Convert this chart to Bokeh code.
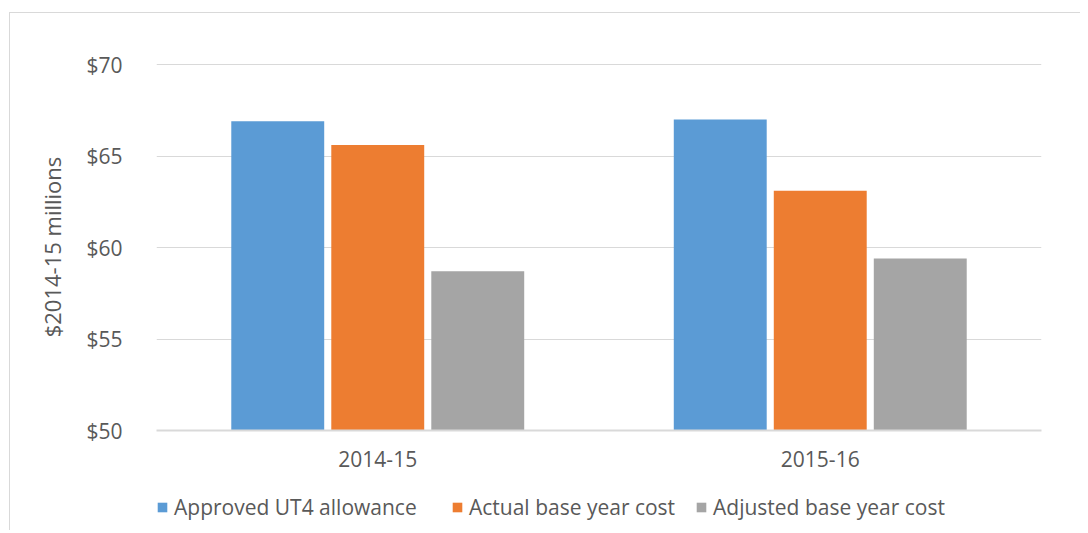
from bokeh.plotting import figure
from bokeh.layouts import column
from bokeh.models import ColumnDataSource, FactorRange, Legend, LegendItem, NumeralTickFormatter, FixedTicker, Range1d
from bokeh.transform import dodge
from bokeh.embed import file_html
from bokeh.resources import INLINE

years = ["2014-15", "2015-16"]
series = ["Approved UT4 allowance", "Actual base year cost", "Adjusted base year cost"]
approved = [66.9, 67.0]
actual = [65.6, 63.1]
adjusted = [58.7, 59.4]
colors = ["#5B9BD5", "#ED7D31", "#A5A5A5"]
y_ticks = [50, 55, 60, 65, 70]

src = ColumnDataSource(data=dict(year=years, approved=approved, actual=actual, adjusted=adjusted))

FONT = "Open Sans"
TXT = "#595959"
GRID = "#D9D9D9"

p = figure(x_range=FactorRange(*years), y_range=Range1d(50, 70.06),
           frame_width=885, frame_height=367,
           output_backend="svg", toolbar_location=None,
           min_border_left=146, min_border_right=39, min_border_top=50, min_border_bottom=50)
p.outline_line_color = None
p.x_range.range_padding = 0.0

renderers = []
for field, off, col in zip(["approved", "actual", "adjusted"], [-0.226, 0.0, 0.226], colors):
    r = p.vbar(x=dodge("year", off, range=p.x_range), top=field, bottom=50, width=0.21,
               source=src, color=col, line_color=None)
    renderers.append(r)

p.yaxis.ticker = FixedTicker(ticks=y_ticks)
p.yaxis.formatter = NumeralTickFormatter(format="$0")
p.yaxis.axis_line_color = None
p.yaxis.major_tick_line_color = None
p.yaxis.minor_tick_line_color = None
p.yaxis.major_label_standoff = 28
p.yaxis.axis_label = "$2014-15 millions"
p.yaxis.axis_label_standoff = 16
p.yaxis.axis_label_text_font = FONT
p.yaxis.axis_label_text_font_size = "22px"
p.yaxis.axis_label_text_font_style = "normal"
p.yaxis.axis_label_text_color = TXT

p.xaxis.axis_line_color = GRID
p.xaxis.axis_line_width = 2
p.xaxis.major_tick_line_color = None
p.xaxis.minor_tick_line_color = None
p.xaxis.major_label_standoff = 14

for ax in [p.xaxis, p.yaxis]:
    ax.major_label_text_font = FONT
    ax.major_label_text_font_size = "21px"
    ax.major_label_text_color = TXT

p.xgrid.grid_line_color = None
p.ygrid.grid_line_color = GRID
p.ygrid.grid_line_width = 1

# legend strip below the chart
lg = figure(width=1070, height=50, x_range=(0, 1), y_range=(0, 1),
            output_backend="svg", toolbar_location=None,
            min_border_left=0, min_border_right=0, min_border_top=0, min_border_bottom=0)
lg.axis.visible = False
lg.grid.visible = False
lg.outline_line_color = None

legend_x = [0, 295, 539]
for s, col, lx in zip(series, colors, legend_x):
    d = lg.vbar(x=[0.5], top=[0.0], bottom=[0.0], width=0.0, color=col, line_color=None)
    leg = Legend(items=[LegendItem(label=s, renderers=[d])],
                 orientation="horizontal", location=(lx, 9),
                 glyph_width=12, glyph_height=12, label_standoff=6, spacing=0,
                 label_text_font=FONT, label_text_font_size="21px", label_text_color=TXT,
                 border_line_color=None, background_fill_alpha=0, padding=0, margin=0)
    lg.add_layout(leg, "center")

layout = column(p, lg, spacing=0)
layout.margin = (12, 0, 0, 9)
layout.styles = {"border-top": "1px solid #D9D9D9", "border-left": "1px solid #D9D9D9"}

open("out.html", "w").write(file_html(layout, INLINE))
